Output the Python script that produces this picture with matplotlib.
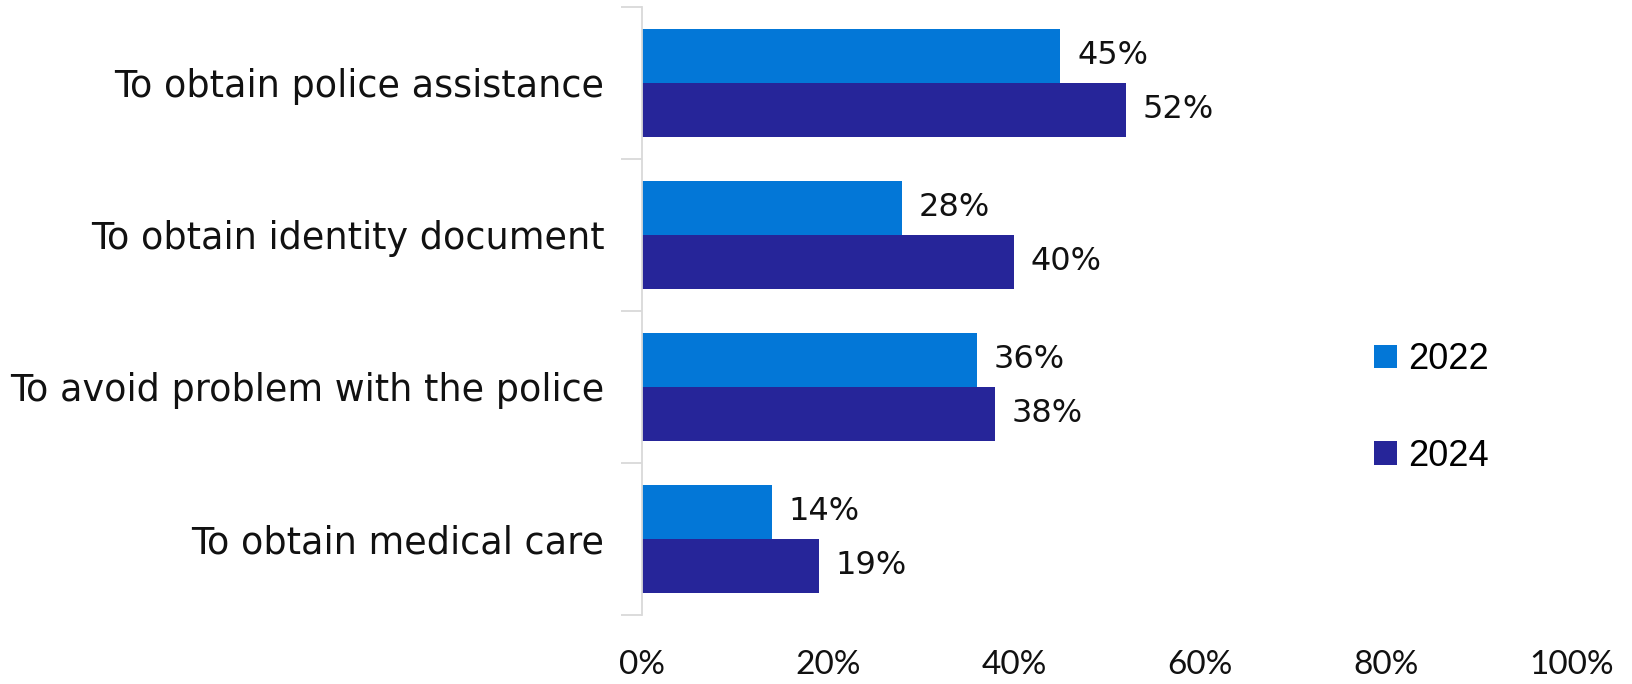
import matplotlib
matplotlib.use("Agg")
import matplotlib.pyplot as plt
from matplotlib.patches import Patch
from matplotlib import font_manager as fm
import numpy as np

categories = [
    "To obtain police assistance",
    "To obtain identity document",
    "To avoid problem with the police",
    "To obtain medical care",
]
series_names = ["2022", "2024"]
values_2022 = [45, 28, 36, 14]
values_2024 = [52, 40, 38, 19]
x_ticks = [0, 20, 40, 60, 80, 100]
x_tick_labels = ["0%", "20%", "40%", "60%", "80%", "100%"]

colors = ["#0377D7", "#262599"]
main_font = "DejaVu Sans"
tick_font = "Lato"


def regular_font(name, size):
    """Pick the plain regular (non-narrow) face of a family."""
    for f in fm.fontManager.ttflist:
        if (f.name == name and f.style == "normal" and f.weight in (400, "normal")
                and f.stretch in ("normal", 500) and "Narrow" not in f.fname):
            return fm.FontProperties(fname=f.fname, size=size)
    return fm.FontProperties(family=name, size=size)


legend_prop = regular_font("Liberation Sans", 26)

fig = plt.figure(figsize=(16.33, 6.84), dpi=100)
ax = fig.add_axes([0.393, 0.101, 0.5697, 0.889])

n = len(categories)
y = np.arange(n)
bar_h = 0.355
ax.barh(y - bar_h / 2, values_2022, height=bar_h, color=colors[0], label=series_names[0])
ax.barh(y + bar_h / 2, values_2024, height=bar_h, color=colors[1], label=series_names[1])

for yi, v in zip(y, values_2022):
    ax.text(v + 1.8, yi - bar_h / 2, f"{v}%", va="center", ha="left",
            fontsize=23, family=main_font, color="#111111")
for yi, v in zip(y, values_2024):
    ax.text(v + 1.8, yi + bar_h / 2, f"{v}%", va="center", ha="left",
            fontsize=23, family=main_font, color="#111111")

ax.set_xlim(0, 100)
ax.set_ylim(n - 0.5, -0.5)

# category labels centered in each group, tick marks at group boundaries
ax.set_yticks(y)
ax.set_yticklabels(categories, fontsize=26.3, family=main_font, color="#111111")
ax.tick_params(axis="y", length=0, pad=27)
ax.set_yticks(np.arange(-0.5, n, 1.0), minor=True)
ax.tick_params(axis="y", which="minor", length=15, color="#d9d9d9", width=1.3)

ax.set_xticks(x_ticks)
ax.set_xticklabels(x_tick_labels, fontsize=24, family=tick_font, color="#111111")
ax.tick_params(axis="x", length=0, pad=25)

for side in ["top", "right", "bottom"]:
    ax.spines[side].set_visible(False)
ax.spines["left"].set_color("#d9d9d9")
ax.spines["left"].set_linewidth(1.3)

handles = [Patch(facecolor=c, edgecolor="none") for c in colors]
fig.legend(handles, series_names, loc="center left",
           bbox_to_anchor=(1342 / 1633, 1 - 408 / 684), frameon=False,
           prop=legend_prop,
           handlelength=0.62, handleheight=0.62, handletextpad=0.3,
           labelspacing=1.7)

fig.savefig("out.png", dpi=100, facecolor="white")
